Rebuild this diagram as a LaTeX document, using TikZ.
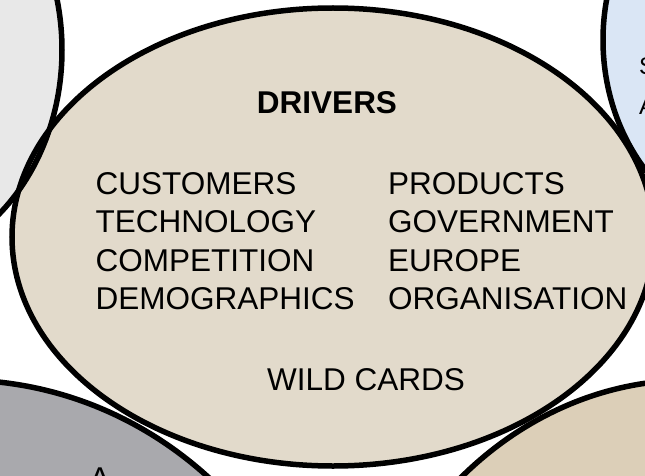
\documentclass[tikz,border=0pt]{standalone}
\usepackage{fontspec}
\setmainfont{Liberation Sans}
\definecolor{drvbeige}{HTML}{E2DACB}
\definecolor{tlgrey}{HTML}{E8E8E8}
\definecolor{trblue}{HTML}{DAE6F5}
\definecolor{blgrey}{HTML}{A9A9AD}
\definecolor{brbeige}{HTML}{DCCFB8}
\tikzset{
  bubble/.style={line width=5.5pt},
  drvtext/.style={font=\fontsize{31.5}{36}\selectfont, inner sep=0pt},
  edgetext/.style={font=\fontsize{24}{28}\selectfont, inner sep=0pt}
}
\begin{document}
\begin{tikzpicture}[x=1pt, y=1pt]
    \useasboundingbox (0,0) rectangle (645,475);
    % 楕円
    \fill[tlgrey] (-120,425) ellipse [x radius=182, y radius=217];
    \fill[trblue] (780,435) ellipse [x radius=177, y radius=200];
    \fill[blgrey] (-40,-305) ellipse [x radius=380, y radius=400];
    \fill[brbeige] (690,-305) ellipse [x radius=350, y radius=400];
    \fill[drvbeige] (333,238) ellipse [x radius=321, y radius=229];

    \draw[bubble] (-120,425) ellipse [x radius=182, y radius=217];
    \draw[bubble] (780,435) ellipse [x radius=177, y radius=200];
    \draw[bubble] (-40,-305) ellipse [x radius=380, y radius=400];
    \draw[bubble] (690,-305) ellipse [x radius=350, y radius=400];
    \draw[bubble] (333,238) ellipse [x radius=321, y radius=229];

    % テキスト
    \node[drvtext, font=\fontsize{31.5}{36}\selectfont\bfseries, anchor=base] (drivers) at (327,362) {DRIVERS};
    \node[drvtext, anchor=base west] (customers) at (95.5,281) {CUSTOMERS};
    \node[drvtext, anchor=base west] (technology) at (95.5,243) {TECHNOLOGY};
    \node[drvtext, anchor=base west] (competition) at (95.5,204) {COMPETITION};
    \node[drvtext, anchor=base west] (demographics) at (95.5,166) {DEMOGRAPHICS};
    \node[drvtext, anchor=base west] (products) at (388,281) {PRODUCTS};
    \node[drvtext, anchor=base west] (government) at (388,243) {GOVERNMENT};
    \node[drvtext, anchor=base west] (europe) at (388,204) {EUROPE};
    \node[drvtext, anchor=base west] (organisation) at (388,166) {ORGANISATION};
    \node[drvtext, anchor=base] (wildcards) at (366,85) {WILD CARDS};

    % 端の文字
    \node[edgetext, anchor=base west] (trs) at (639,400) {S};
    \node[edgetext, anchor=base west] (tra) at (639,360) {A};
    \node[drvtext, anchor=base] (bla) at (100,-14.5) {A};
  \end{tikzpicture}
\end{document}
